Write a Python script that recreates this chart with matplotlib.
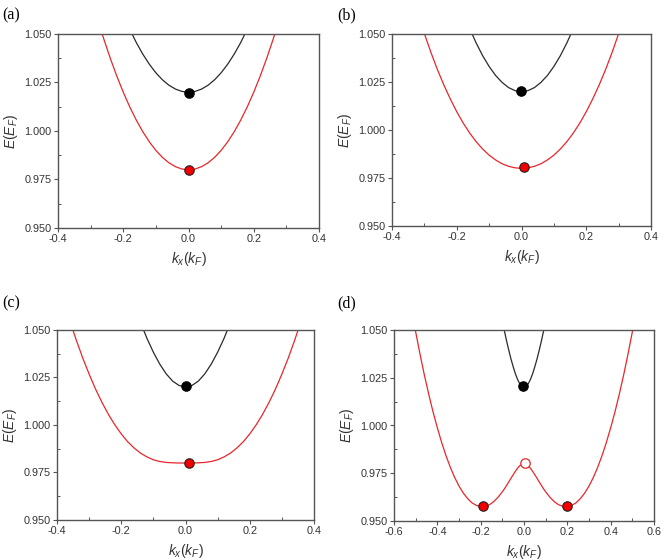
import matplotlib
matplotlib.use('Agg')
import matplotlib.pyplot as plt
from matplotlib.ticker import MultipleLocator

plt.rcParams['font.family'] = ['Liberation Sans', 'DejaVu Sans']
plt.rcParams['mathtext.fontset'] = 'custom'
plt.rcParams['mathtext.rm'] = 'Liberation Sans'
plt.rcParams['mathtext.it'] = 'Liberation Sans:italic'

# (a) upper / lower band
k_a_up = [-0.18, -0.16, -0.14, -0.12, -0.10, -0.08, -0.06, -0.04, -0.02, 0.0,
          0.02, 0.04, 0.06, 0.08, 0.10, 0.12, 0.14, 0.16, 0.18]
E_a_up = [1.0524, 1.0456, 1.0396, 1.0344, 1.0300, 1.0264, 1.0236, 1.0216, 1.0204, 1.0200,
          1.0204, 1.0216, 1.0236, 1.0264, 1.0300, 1.0344, 1.0396, 1.0456, 1.0524]
k_a_lo = [-0.28, -0.26, -0.24, -0.22, -0.20, -0.18, -0.16, -0.14, -0.12, -0.10, -0.08, -0.06, -0.04, -0.02, 0.0,
          0.02, 0.04, 0.06, 0.08, 0.10, 0.12, 0.14, 0.16, 0.18, 0.20, 0.22, 0.24, 0.26, 0.28]
E_a_lo = [1.0584, 1.0476, 1.0376, 1.0284, 1.0200, 1.0124, 1.0056, 0.9996, 0.9944, 0.9900, 0.9864, 0.9836, 0.9816, 0.9804, 0.9800,
          0.9804, 0.9816, 0.9836, 0.9864, 0.9900, 0.9944, 0.9996, 1.0056, 1.0124, 1.0200, 1.0284, 1.0376, 1.0476, 1.0584]

# (b)
k_b_up = [-0.16, -0.14, -0.12, -0.10, -0.08, -0.06, -0.04, -0.02, 0.0,
          0.02, 0.04, 0.06, 0.08, 0.10, 0.12, 0.14, 0.16]
E_b_up = [1.0528, 1.0453, 1.0387, 1.0331, 1.0284, 1.0248, 1.0221, 1.0205, 1.0200,
          1.0205, 1.0221, 1.0248, 1.0284, 1.0331, 1.0387, 1.0453, 1.0528]
k_b_lo = [-0.32, -0.30, -0.28, -0.26, -0.24, -0.22, -0.20, -0.18, -0.16, -0.14, -0.12, -0.10, -0.08, -0.06, -0.04, -0.02, 0.0,
          0.02, 0.04, 0.06, 0.08, 0.10, 0.12, 0.14, 0.16, 0.18, 0.20, 0.22, 0.24, 0.26, 0.28, 0.30, 0.32]
E_b_lo = [1.0605, 1.0502, 1.0405, 1.0316, 1.0235, 1.0162, 1.0095, 1.0036, 0.9984, 0.9939, 0.9901, 0.9869, 0.9844, 0.9824, 0.9811, 0.9803, 0.9800,
          0.9803, 0.9811, 0.9824, 0.9844, 0.9869, 0.9901, 0.9939, 0.9984, 1.0036, 1.0095, 1.0162, 1.0235, 1.0316, 1.0405, 1.0502, 1.0605]

# (c)
k_c_up = [-0.14, -0.12, -0.10, -0.08, -0.06, -0.04, -0.02, 0.0,
          0.02, 0.04, 0.06, 0.08, 0.10, 0.12, 0.14]
E_c_up = [1.0540, 1.0456, 1.0383, 1.0320, 1.0269, 1.0231, 1.0208, 1.0200,
          1.0208, 1.0231, 1.0269, 1.0320, 1.0383, 1.0456, 1.0540]
k_c_lo = [-0.36, -0.34, -0.32, -0.30, -0.28, -0.26, -0.24, -0.22, -0.20, -0.18, -0.16, -0.14, -0.12, -0.10, -0.08, -0.06, -0.04, -0.02, 0.0,
          0.02, 0.04, 0.06, 0.08, 0.10, 0.12, 0.14, 0.16, 0.18, 0.20, 0.22, 0.24, 0.26, 0.28, 0.30, 0.32, 0.34, 0.36]
E_c_lo = [1.0549, 1.0447, 1.0353, 1.0268, 1.0189, 1.0119, 1.0056, 1.0001, 0.9953, 0.9912, 0.9879, 0.9852, 0.9832, 0.9817, 0.9808, 0.9803, 0.9801, 0.9800, 0.9800,
          0.9800, 0.9801, 0.9803, 0.9808, 0.9817, 0.9832, 0.9852, 0.9879, 0.9912, 0.9953, 1.0001, 1.0056, 1.0119, 1.0189, 1.0268, 1.0353, 1.0447, 1.0549]

# (d)
k_d_up = [-0.10, -0.09, -0.08, -0.07, -0.06, -0.05, -0.04, -0.03, -0.02, -0.01, 0.0,
          0.01, 0.02, 0.03, 0.04, 0.05, 0.06, 0.07, 0.08, 0.09, 0.10]
E_d_up = [1.0547, 1.0493, 1.0441, 1.0393, 1.0348, 1.0308, 1.0272, 1.0242, 1.0219, 1.0205, 1.0200,
          1.0205, 1.0219, 1.0242, 1.0272, 1.0308, 1.0348, 1.0393, 1.0441, 1.0493, 1.0547]
k_d_lo = [-0.52, -0.50, -0.48, -0.46, -0.44, -0.42, -0.40, -0.38, -0.36, -0.34, -0.32, -0.30, -0.28, -0.26, -0.24, -0.22,
          -0.20, -0.18, -0.16, -0.14, -0.12, -0.10, -0.09, -0.08, -0.07, -0.06, -0.05, -0.04, -0.03, -0.02, -0.01, 0.0,
          0.01, 0.02, 0.03, 0.04, 0.05, 0.06, 0.07, 0.08, 0.09, 0.10, 0.12, 0.14, 0.16, 0.18, 0.20,
          0.22, 0.24, 0.26, 0.28, 0.30, 0.32, 0.34, 0.36, 0.38, 0.40, 0.42, 0.44, 0.46, 0.48, 0.50, 0.52]
E_d_lo = [1.0614, 1.0490, 1.0374, 1.0265, 1.0165, 1.0072, 0.9988, 0.9911, 0.9842, 0.9781, 0.9728, 0.9683, 0.9646, 0.9617, 0.9595, 0.9582,
          0.9575, 0.9577, 0.9585, 0.9601, 0.9624, 0.9653, 0.9669, 0.9687, 0.9705, 0.9724, 0.9742, 0.9760, 0.9776, 0.9789, 0.9797, 0.9800,
          0.9797, 0.9789, 0.9776, 0.9760, 0.9742, 0.9724, 0.9705, 0.9687, 0.9669, 0.9653, 0.9624, 0.9601, 0.9585, 0.9577, 0.9575,
          0.9582, 0.9595, 0.9617, 0.9646, 0.9683, 0.9728, 0.9781, 0.9842, 0.9911, 0.9988, 1.0072, 1.0165, 1.0265, 1.0374, 1.0490, 1.0614]

# marker points (k, E)
black_pts = [(0.0, 1.0195), (-0.002, 1.0205), (0.0, 1.0203), (-0.003, 1.0208)]
red_pts = [[(0.0, 0.9800)], [(0.008, 0.9805)], [(0.010, 0.9800)], [(-0.188, 0.9578), (0.198, 0.9576)]]
open_pts_d = [(0.005, 0.9803)]

panel_labels = ['(a)', '(b)', '(c)', '(d)']
x_limits = [(-0.4, 0.4), (-0.4, 0.4), (-0.4, 0.4), (-0.6, 0.6)]

W, H = 664, 560
# axes boxes in pixels: left, top, right, bottom
boxes = [(58, 34, 319, 228), (392, 34, 651, 226), (57, 330, 314, 520), (394, 330, 654, 521)]
label_xy = [(2, 15), (337, 15), (2, 303), (337, 303)]

curves = [(k_a_up, E_a_up, k_a_lo, E_a_lo),
          (k_b_up, E_b_up, k_b_lo, E_b_lo),
          (k_c_up, E_c_up, k_c_lo, E_c_lo),
          (k_d_up, E_d_up, k_d_lo, E_d_lo)]

fig = plt.figure(figsize=(W / 100, H / 100), dpi=100)
axis_col = '#555555'
red = '#e8262b'

for i in range(4):
    l, t, r, b = boxes[i]
    ax = fig.add_axes([l / W, 1 - b / H, (r - l) / W, (b - t) / H])
    ku, eu, kl, el = curves[i]
    ax.plot(ku, eu, color='#2a2a2a', lw=0.9)
    ax.plot(kl, el, color=red, lw=0.9)

    bx, by = black_pts[i]
    ax.plot(bx, by, 'o', ms=6.8, mfc='black', mec='black', mew=0.8)
    for rx, ry in red_pts[i]:
        ax.plot(rx, ry, 'o', ms=6.8, mfc='#f00000', mec='#222222', mew=0.8)
    if i == 3:
        for ox, oy in open_pts_d:
            ax.plot(ox, oy, 'o', ms=6.8, mfc='white', mec=red, mew=0.9)

    ax.set_xlim(*x_limits[i])
    ax.set_ylim(0.95, 1.05)
    ax.xaxis.set_major_locator(MultipleLocator(0.2))
    ax.xaxis.set_minor_locator(MultipleLocator(0.1))
    ax.yaxis.set_major_locator(MultipleLocator(0.025))
    ax.yaxis.set_minor_locator(MultipleLocator(0.0125))
    ax.yaxis.set_major_formatter(plt.FormatStrFormatter('%.3f'))
    ax.xaxis.set_major_formatter(plt.FormatStrFormatter('%.1f'))

    for sp in ax.spines.values():
        sp.set_color(axis_col)
        sp.set_linewidth(1.0)
    ax.tick_params(which='major', direction='out', length=3, width=0.8,
                   color=axis_col, labelsize=7.8, labelcolor='#333333', pad=1.5)
    ax.tick_params(which='minor', direction='in', length=2, width=0.7, color=axis_col)
    ax.tick_params(top=False, right=False, which='both')

    ax.set_ylabel(r'$E(E_F)$', fontsize=10, color='#333333', labelpad=3)
    ax.set_xlabel(r'$k_x(k_F)$', fontsize=10, color='#333333', labelpad=4)

    lx, ly = label_xy[i]
    fig.text(lx / W, 1 - ly / H, panel_labels[i], fontsize=11.5,
             family='Liberation Serif', va='center', ha='left')

fig.savefig('out.png', dpi=100)
